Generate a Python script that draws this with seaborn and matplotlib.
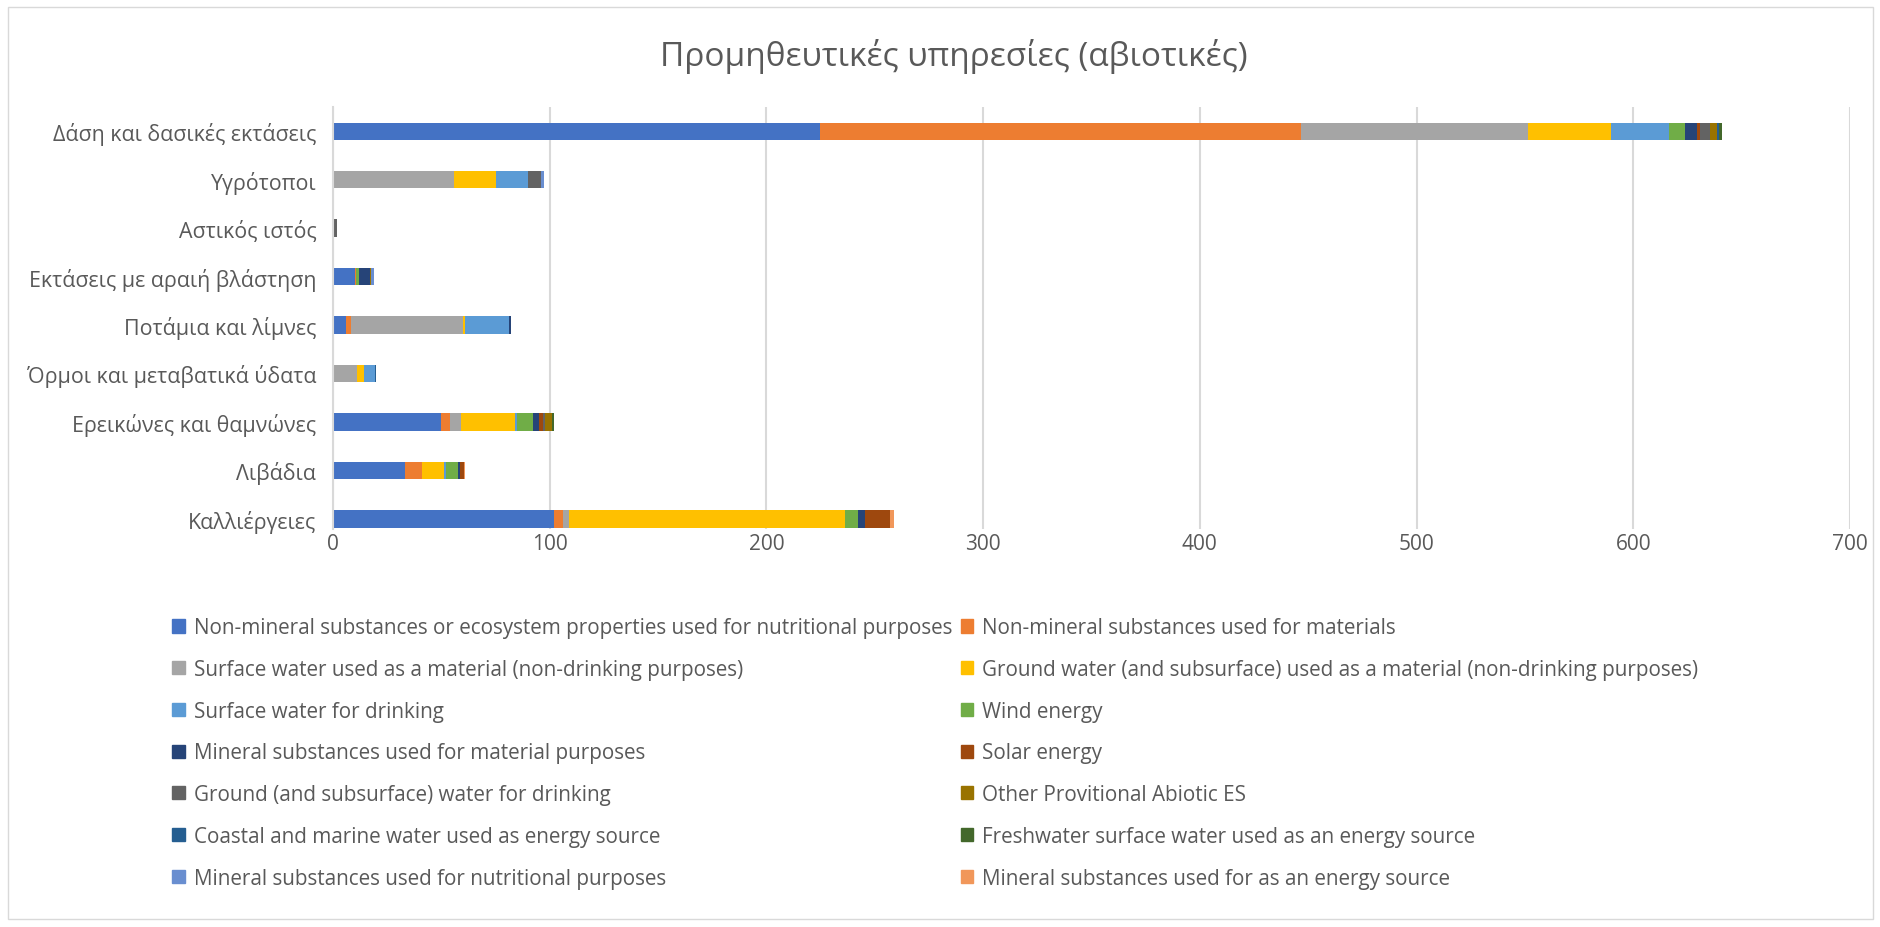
import numpy as np
import matplotlib
matplotlib.use("Agg")
import matplotlib.pyplot as plt
import matplotlib.patches as mpatches
import pandas as pd
import seaborn as sns

# land cover categories, top to bottom
categories = [
    "Δάση και δασικές εκτάσεις",
    "Υγρότοποι",
    "Αστικός ιστός",
    "Εκτάσεις με αραιή βλάστηση",
    "Ποτάμια και λίμνες",
    "Όρμοι και μεταβατικά ύδατα",
    "Ερεικώνες και θαμνώνες",
    "Λιβάδια",
    "Καλλιέργειες",
]

series_names = [
    "Non-mineral substances or ecosystem properties used for nutritional purposes",
    "Non-mineral substances used for materials",
    "Surface water used as a material (non-drinking purposes)",
    "Ground water (and subsurface) used as a material (non-drinking purposes)",
    "Surface water for drinking",
    "Wind energy",
    "Mineral substances used for material purposes",
    "Solar energy",
    "Ground (and subsurface) water for drinking",
    "Other Provitional Abiotic ES",
    "Coastal and marine water used as energy source",
    "Freshwater surface water used as an energy source",
    "Mineral substances used for nutritional purposes",
    "Mineral substances used for as an energy source",
]

colors = ["#4472C4", "#ED7D31", "#A5A5A5", "#FFC000", "#5B9BD5", "#70AD47",
          "#264478", "#9E480E", "#636363", "#997300", "#255E91", "#43682B",
          "#698ED0", "#F1975A"]

# values per series, one entry per category (same order as categories)
nutritional_nonmineral = [224.7, 0, 0, 10.0, 6.0, 0, 50.0, 33.1, 102.2]
materials_nonmineral   = [222.2, 0, 0, 0.8, 2.2, 0, 4.0, 7.8, 3.8]
surface_water_material = [104.5, 55.8, 0, 0, 51.7, 10.9, 4.9, 0, 3.1]
ground_water_material  = [38.2, 19.3, 0.6, 0, 1.2, 3.2, 25.1, 10.3, 127.1]
surface_water_drinking = [26.9, 15.1, 0, 0, 20.0, 5.1, 1.1, 0.9, 0]
wind_energy            = [7.2, 0, 0, 1.2, 0, 0, 7.1, 5.8, 6.2]
mineral_materials      = [5.9, 0, 0, 4.9, 0.9, 0, 2.9, 0.9, 3.0]
solar_energy           = [1.1, 0, 0, 0, 0, 0, 1.8, 1.8, 11.8]
ground_water_drinking  = [4.8, 5.7, 1.1, 0, 0, 0, 0.9, 0, 0]
other_abiotic          = [3.1, 0, 0, 0.8, 0, 0, 3.4, 0, 0]
coastal_energy         = [0.8, 0, 0, 0, 0, 0.8, 0, 0, 0]
freshwater_energy      = [1.4, 0, 0, 0, 0, 0, 0.8, 0, 0]
mineral_nutritional    = [0, 1.3, 0, 1.2, 0, 0, 0, 0, 0]
mineral_energy         = [0, 0, 0, 0, 0, 0, 0, 0.5, 1.5]

values = [nutritional_nonmineral, materials_nonmineral, surface_water_material,
          ground_water_material, surface_water_drinking, wind_energy,
          mineral_materials, solar_energy, ground_water_drinking, other_abiotic,
          coastal_energy, freshwater_energy, mineral_nutritional, mineral_energy]

x_ticks = [0, 100, 200, 300, 400, 500, 600, 700]

sns.set_theme(style="white")
plt.rcParams["font.family"] = ["Open Sans", "DejaVu Sans"]

W, H = 1881, 928
fig = plt.figure(figsize=(W / 100, H / 100), dpi=100)
ax = fig.add_axes([333 / W, 1 - 530 / H, (1850 - 333) / W, (530 - 108) / H])

df = pd.DataFrame(np.array(values).T, columns=series_names)
df["category"] = categories
cum = df[series_names].cumsum(axis=1)

# stacked bars: draw running totals from the last series back to the first
for i in range(len(series_names) - 1, -1, -1):
    sns.barplot(x=cum[series_names[i]], y=df["category"], color=colors[i],
                orient="h", width=0.36, ax=ax, saturation=1,
                edgecolor="white", linewidth=0)

ax.set_xlim(0, 700)
ax.set_ylim(8.21, -0.5)
ax.set_xticks(x_ticks)
ax.set_xlabel("")
ax.set_ylabel("")
ax.grid(axis="x", color="#D9D9D9", linewidth=1.5)
ax.set_axisbelow(True)
for s in ["top", "right", "bottom"]:
    ax.spines[s].set_visible(False)
ax.spines["left"].set_color("#D9D9D9")
ax.spines["left"].set_linewidth(1.5)
ax.tick_params(axis="y", length=0, labelsize=15.4, colors="#595959", pad=12)
ax.tick_params(axis="x", length=0, labelsize=15, colors="#595959", pad=3)

fig.text(954 / W, 1 - 56 / H, "Προμηθευτικές υπηρεσίες (αβιοτικές)",
         ha="center", va="center", fontsize=24, color="#595959")

# legend filled row by row like the original
order = [0, 2, 4, 6, 8, 10, 12, 1, 3, 5, 7, 9, 11, 13]
handles = [mpatches.Patch(color=colors[k], label=series_names[k]) for k in order]
fig.legend(handles=handles, ncol=2, loc="upper left",
           bbox_to_anchor=(162 / W, 1 - 608 / H), frameon=False,
           fontsize=14.9, labelcolor="#595959", handlelength=0.6,
           handleheight=0.6, handletextpad=0.45, columnspacing=0.4,
           labelspacing=1.0, borderpad=0)

fig.patches.append(mpatches.Rectangle((8 / W, 8 / H), 1 - 16 / W, 1 - 16 / H,
                                      transform=fig.transFigure, fill=False,
                                      edgecolor="#D9D9D9", linewidth=1))

fig.savefig("out.png", dpi=100)
